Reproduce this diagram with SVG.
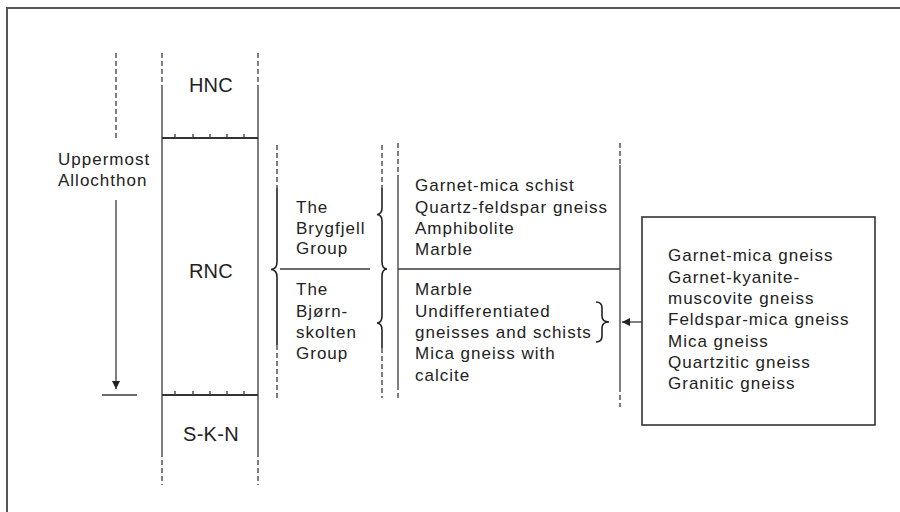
<svg xmlns="http://www.w3.org/2000/svg" width="900" height="512" viewBox="0 0 900 512">
<style>
  text { font-family: "Liberation Sans", Arial, sans-serif; fill: #222; }
  .t { font-size: 17px; letter-spacing: 1px; }
  .big { font-size: 20px; letter-spacing: 0.3px; text-anchor: middle; }
  .ln { stroke: #3a3a3a; stroke-width: 1.3; fill: none; }
  .dash { stroke: #3a3a3a; stroke-width: 1.3; fill: none; stroke-dasharray: 5 3; }
  .thick { stroke: #333; stroke-width: 1.8; fill: none; }
  .brace { stroke: #222; stroke-width: 1.6; fill: none; }
</style>
<defs>
  <marker id="ah" viewBox="0 0 10 10" refX="10" refY="5" markerWidth="8" markerHeight="8" markerUnits="userSpaceOnUse" orient="auto">
    <path d="M0,0 L10,5 L0,10 z" fill="#222"/>
  </marker>
</defs>
<rect width="900" height="512" fill="#fff"/>
<path d="M7,512 V8 H900" stroke="#555" stroke-width="2" fill="none"/>

<g id="uppermost">
  <line class="dash" x1="116" y1="53" x2="116" y2="138"/>
  <text class="t" x="58" y="165">Uppermost</text>
  <text class="t" x="58" y="186">Allochthon</text>
  <line class="ln" x1="102" y1="395" x2="137" y2="395"/>
</g>

<g id="hnc">
  <line class="dash" x1="162" y1="53" x2="162" y2="88"/>
  <line class="dash" x1="258" y1="53" x2="258" y2="90"/>
  <text class="big" x="211" y="92">HNC</text>
</g>
<g id="rnc">
  <line class="ln" x1="162" y1="88" x2="162" y2="452"/>
  <line class="ln" x1="258" y1="90" x2="258" y2="452"/>
  <line class="thick" x1="162" y1="138" x2="258" y2="138"/>
  <path class="ln" d="M175,138 v-4 M193,138 v-4 M210,138 v-4 M227,138 v-4 M244,138 v-4"/>
  <line class="thick" x1="162" y1="395" x2="258" y2="395"/>
  <path class="ln" d="M175,395 v-4 M193,395 v-4 M210,395 v-4 M227,395 v-4 M244,395 v-4"/>
  <text class="big" x="211" y="278">RNC</text>
</g>
<g id="skn">
  <line class="dash" x1="162" y1="452" x2="162" y2="485"/>
  <line class="dash" x1="258" y1="452" x2="258" y2="485"/>
  <text class="big" x="211" y="441">S-K-N</text>
</g>

<g id="groups">
  <line class="dash" x1="277" y1="145" x2="277" y2="188"/>
  <path class="brace" d="M277,188 V262 Q277,269 271,269.5 Q277,270 277,277 V345"/>
  <line class="dash" x1="277" y1="345" x2="277" y2="398"/>
  <line class="ln" x1="280" y1="269" x2="370" y2="269"/>
  <line class="dash" x1="382" y1="145" x2="382" y2="188"/>
  <path class="brace" d="M382,188 V208 Q382,214 377,214.5 Q382,215 382,221 V262 Q382,268.5 387,269 Q382,269.5 382,276 V316 Q382,322.5 377,323 Q382,323.5 382,330 V348"/>
  <line class="dash" x1="382" y1="348" x2="382" y2="398"/>
</g>

<g id="brygfjell">
  <text class="t" x="296" y="213">The</text>
  <text class="t" x="296" y="234">Brygfjell</text>
  <text class="t" x="296" y="254">Group</text>
</g>
<g id="bjornskolten">
  <text class="t" x="296" y="295">The</text>
  <text class="t" x="296" y="317">Bjørn-</text>
  <text class="t" x="296" y="338">skolten</text>
  <text class="t" x="296" y="359">Group</text>
</g>

<g id="lithology">
  <line class="dash" x1="398" y1="143" x2="398" y2="180"/>
  <line class="ln" x1="398" y1="180" x2="398" y2="385"/>
  <line class="dash" x1="398" y1="385" x2="398" y2="401"/>
  <line class="dash" x1="620" y1="143" x2="620" y2="165"/>
  <line class="ln" x1="620" y1="165" x2="620" y2="387"/>
  <line class="dash" x1="620" y1="387" x2="620" y2="407"/>
  <line class="ln" x1="398" y1="269" x2="620" y2="269"/>
  <text class="t" x="415" y="191">Garnet-mica schist</text>
  <text class="t" x="415" y="213">Quartz-feldspar gneiss</text>
  <text class="t" x="415" y="234">Amphibolite</text>
  <text class="t" x="415" y="255">Marble</text>
  <text class="t" x="415" y="295">Marble</text>
  <text class="t" x="415" y="317">Undifferentiated</text>
  <text class="t" x="415" y="338">gneisses and schists</text>
  <text class="t" x="415" y="359">Mica gneiss with</text>
  <text class="t" x="415" y="381">calcite</text>
  <path class="brace" d="M596,302 Q602,302 602,308 V316 Q602,322 609,322 Q602,322 602,328 V336 Q602,342 596,342"/>
</g>

<g id="gneiss-box">
  <rect x="642" y="217" width="233" height="208" stroke="#333" stroke-width="1.6" fill="none"/>
  <text class="t" x="668" y="261">Garnet-mica gneiss</text>
  <text class="t" x="668" y="282.5">Garnet-kyanite-</text>
  <text class="t" x="668" y="304">muscovite gneiss</text>
  <text class="t" x="668" y="325">Feldspar-mica gneiss</text>
  <text class="t" x="668" y="346.5">Mica gneiss</text>
  <text class="t" x="668" y="368">Quartzitic gneiss</text>
  <text class="t" x="668" y="389">Granitic gneiss</text>
</g>

<g id="connectors">
  <line class="ln" x1="116" y1="200" x2="116" y2="389" marker-end="url(#ah)"/>
  <line class="ln" x1="642" y1="322" x2="622" y2="322" marker-end="url(#ah)"/>
</g>
</svg>
